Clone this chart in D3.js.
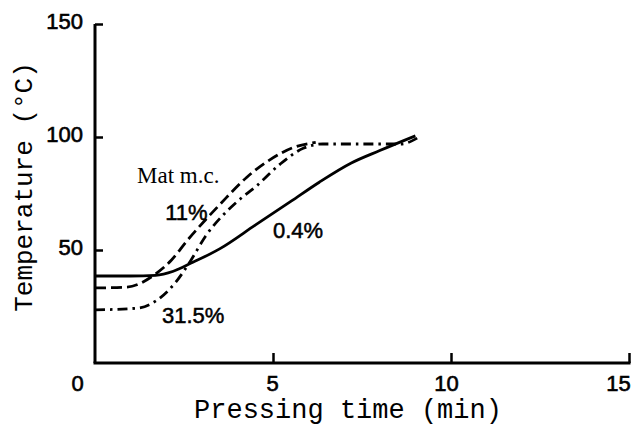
<!DOCTYPE html>
<html>
<head>
<meta charset="utf-8">
<script src="https://cdn.jsdelivr.net/npm/d3@7"></script>
<style>
  html, body { margin: 0; padding: 0; background: #fff; }
  svg { display: block; }
</style>
</head>
<body>
<svg id="chart" width="634" height="426"></svg>
<script>
// ---- data ----
const xTicks = [0, 5, 10, 15];
const yTicks = [50, 100, 150];

// 0.4% mat moisture content (solid)
const time04 = [0, 1, 1.7, 2.2, 2.7, 3.5, 4.5, 5.5, 6.3, 7.2, 8, 9];
const temp04 = [38.5, 38.5, 38.8, 40.6, 44.2, 50.5, 61, 71.5, 80, 88.5, 94, 100.5];

// 11% (dashed)
const time11 = [0, 0.9, 1.7, 2.15, 2.6, 3.1, 3.5, 4.25, 4.9, 5.6, 6.2];
const temp11 = [33.2, 33.6, 39.4, 45.6, 54.4, 63.3, 70, 82, 89.8, 95.5, 97.6];

// 31.5% (dash-dot)
const time315 = [0, 1.2, 1.75, 2.25, 2.7, 3.1, 3.6, 4.0, 4.55, 5.2, 5.85, 6.4, 8.6, 9.05];
const temp315 = [23.5, 24.3, 27.9, 35.4, 45.6, 56, 65.5, 71.5, 78.5, 88, 95, 96.9, 96.9, 99.5];

// annotations: text and anchor in data units (time, temperature)
const noteText = ["Mat m.c.", "11%", "0.4%", "31.5%"];
const noteTime = [1.18, 1.97, 5.0, 1.88];
const noteTemp = [79.6, 63.3, 55.3, 17.7];

// ---- drawing ----
const svg = d3.select("#chart");
const x = d3.scaleLinear().domain([0, 15]).range([95, 629]);
const y = d3.scaleLinear().domain([0, 150]).range([363, 24]);

const sansFont = "'Liberation Sans', Arial, Helvetica, sans-serif";
const monoFont = "'Liberation Mono', 'Courier New', monospace";
const serifFont = "'Liberation Serif', 'Times New Roman', serif";

// X axis
const gx = svg.append("g")
  .attr("transform", `translate(0,${y(0)})`)
  .call(d3.axisBottom(x).tickValues(xTicks).tickSize(-10).tickSizeOuter(0).tickPadding(12)
        .tickFormat(d3.format("d")));
gx.select(".domain").attr("stroke", "#000").attr("stroke-width", 3)
  .attr("d", `M${x(0) - 1.5},0H${x(15) + 1.5}`);
gx.selectAll(".tick line").attr("stroke", "#000").attr("stroke-width", 2.5)
  .attr("y2", d => d === 0 ? 0 : -10);
gx.selectAll(".tick text")
  .attr("fill", "#000")
  .style("font-family", sansFont).style("font-size", "22px")
  .attr("stroke", "#000").attr("stroke-width", 0.6)
  .attr("dx", d => d === 0 ? -18 : (d === 5 ? -1 : (d === 15 ? -11 : -5)));

// Y axis
const gy = svg.append("g")
  .attr("transform", `translate(${x(0)},0)`)
  .call(d3.axisLeft(y).tickValues(yTicks).tickSize(-8).tickSizeOuter(0).tickPadding(12)
        .tickFormat(d3.format("d")));
gy.select(".domain").attr("stroke", "#000").attr("stroke-width", 3)
  .attr("d", `M0,${y(150)}V${y(0)}`);
gy.selectAll(".tick line").attr("stroke", "#000").attr("stroke-width", 2.5);
gy.selectAll(".tick text")
  .attr("fill", "#000")
  .style("font-family", sansFont).style("font-size", "22px")
  .attr("stroke", "#000").attr("stroke-width", 0.6)
  .attr("dy", "0.2em");

// Axis titles
svg.append("text")
  .attr("x", 348).attr("y", 418)
  .attr("text-anchor", "middle")
  .style("font-family", monoFont).style("font-size", "27px")
  .attr("fill", "#000")
  .text("Pressing time (min)");

svg.append("text")
  .attr("transform", "translate(32,187) rotate(-90)")
  .attr("text-anchor", "middle")
  .style("font-family", monoFont).style("font-size", "26px")
  .attr("fill", "#000")
  .text("Temperature (°C)");

// Curves
const line = d3.line().x(d => x(d[0])).y(d => y(d[1])).curve(d3.curveMonotoneX);
const zip = (a, b) => a.map((v, i) => [v, b[i]]);

const series = [
  { pts: zip(time04, temp04), dash: null },
  { pts: zip(time11, temp11), dash: "11,5" },
  { pts: zip(time315, temp315), dash: "10,5,2.5,5" }
];

svg.append("g").selectAll("path")
  .data(series)
  .join("path")
  .attr("d", d => line(d.pts))
  .attr("fill", "none")
  .attr("stroke", "#000")
  .attr("stroke-width", 2.8)
  .attr("stroke-dasharray", d => d.dash);

// Annotations
svg.append("g").selectAll("text")
  .data(noteText.map((t, i) => ({ t, tx: noteTime[i], ty: noteTemp[i] })))
  .join("text")
  .attr("x", d => x(d.tx))
  .attr("y", d => y(d.ty))
  .attr("fill", "#000")
  .style("font-family", d => d.t === "Mat m.c." ? serifFont : sansFont)
  .style("font-size", d => d.t === "Mat m.c." ? "23px" : "22px")
  .attr("stroke", d => d.t === "Mat m.c." ? "none" : "#000")
  .attr("stroke-width", 0.5)
  .text(d => d.t);
</script>
</body>
</html>
